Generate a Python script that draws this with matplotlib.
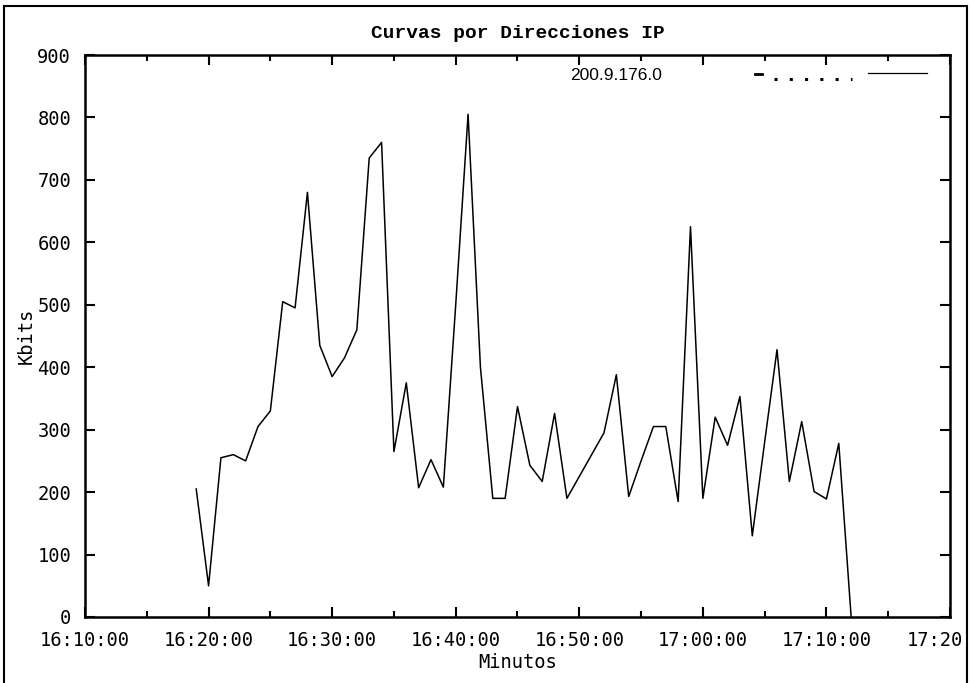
import datetime as dt
import matplotlib
matplotlib.use("Agg")
import matplotlib.pyplot as plt
import matplotlib.dates as mdates
import matplotlib.transforms as mtransforms
from matplotlib.patches import Rectangle
from matplotlib.lines import Line2D

# ---- data ----
times = ["16:19", "16:20", "16:21", "16:22", "16:23", "16:24", "16:25", "16:26",
         "16:27", "16:28", "16:29", "16:30", "16:31", "16:32", "16:33", "16:34",
         "16:35", "16:36", "16:37", "16:38", "16:39", "16:40", "16:41", "16:42",
         "16:43", "16:44", "16:45", "16:46", "16:47", "16:48", "16:49", "16:50",
         "16:51", "16:52", "16:53", "16:54", "16:55", "16:56", "16:57", "16:58",
         "16:59", "17:00", "17:01", "17:02", "17:03", "17:04", "17:05", "17:06",
         "17:07", "17:08", "17:09", "17:10", "17:11", "17:12"]
kbits = [205, 50, 255, 260, 250, 305, 330, 505,
         495, 680, 435, 385, 415, 460, 735, 760,
         265, 375, 207, 252, 208, 500, 805, 400,
         190, 190, 337, 243, 217, 326, 190, 225,
         260, 295, 388, 193, 250, 305, 305, 185,
         625, 190, 320, 275, 353, 130, 280, 428,
         217, 313, 201, 189, 278, 0]
series_label = "200.9.176.0"
title = "Curvas por Direcciones IP"
xlabel = "Minutos"
ylabel = "Kbits"
x_start, x_end = "16:10", "17:20"
y_max = 900

def to_dt(s):
    h, m = map(int, s.split(":"))
    return dt.datetime(2000, 1, 1, h, m)

x = [to_dt(t) for t in times]
end_num = mdates.date2num(to_dt(x_end))

mono = "DejaVu Sans Mono"
fig = plt.figure(figsize=(9.71, 6.83), dpi=100)
ax = fig.add_axes([85/971, 1-617/683, 865/971, 562/683])

ax.plot(x, kbits, color="black", lw=1.1)

ax.set_xlim(to_dt(x_start), to_dt(x_end))
ax.set_ylim(0, y_max)
ax.xaxis.set_major_locator(mdates.MinuteLocator(byminute=range(0, 60, 10)))
ax.xaxis.set_minor_locator(mdates.MinuteLocator(byminute=range(5, 60, 10)))

def fmt(v, pos=None):
    d = mdates.num2date(v)
    if abs(v - end_num) < 1e-6:
        return d.strftime("%H:%M")
    return d.strftime("%H:%M:%S")

ax.xaxis.set_major_formatter(plt.FuncFormatter(fmt))
ax.set_yticks(range(0, y_max + 1, 100))

ax.tick_params(which="both", direction="in", top=True, right=True,
               color="black", width=1.5, labelsize=13.5, pad=10)
ax.tick_params(which="major", length=7)
ax.tick_params(which="minor", length=4)
for sp in ax.spines.values():
    sp.set_linewidth(1.8)

ax.set_title(title, fontfamily="Liberation Mono", fontsize=14, fontweight="bold", pad=12)
ax.set_xlabel(xlabel, fontfamily=mono, fontsize=13.5, labelpad=2)
ax.set_ylabel(ylabel, fontfamily=mono, fontsize=13.5, labelpad=1)

fig.canvas.draw()
shift = mtransforms.ScaledTranslation(-15/100, 0, fig.dpi_scale_trans)
for lab in ax.get_xticklabels():
    lab.set_fontfamily(mono)
for lab in ax.get_yticklabels():
    lab.set_fontfamily(mono)
ticks = ax.get_xticks()
labels = ax.get_xticklabels()
for tv, lab in zip(ticks, labels):
    if abs(tv - end_num) < 1e-6:
        lab.set_transform(lab.get_transform() + shift)

# legend
ax.text(0.667, 0.963, series_label, transform=ax.transAxes, ha="right",
        va="center", fontfamily="Liberation Sans", fontsize=12.5)
ax.add_line(Line2D([0.775, 0.783], [0.966, 0.966], transform=ax.transAxes,
                   color="black", lw=2))
ax.add_line(Line2D([0.797, 0.887], [0.958, 0.958], transform=ax.transAxes,
                   color="black", lw=2.2, linestyle=(0, (1, 4))))
ax.add_line(Line2D([0.905, 0.973], [0.968, 0.968], transform=ax.transAxes,
                   color="black", lw=0.9))

# outer frame
fig.patches.append(Rectangle((4/971, -0.05), 963/971, 1.05 - 6/683,
                             transform=fig.transFigure, fill=False,
                             edgecolor="black", lw=1.5))

fig.savefig("out.png", dpi=100)
